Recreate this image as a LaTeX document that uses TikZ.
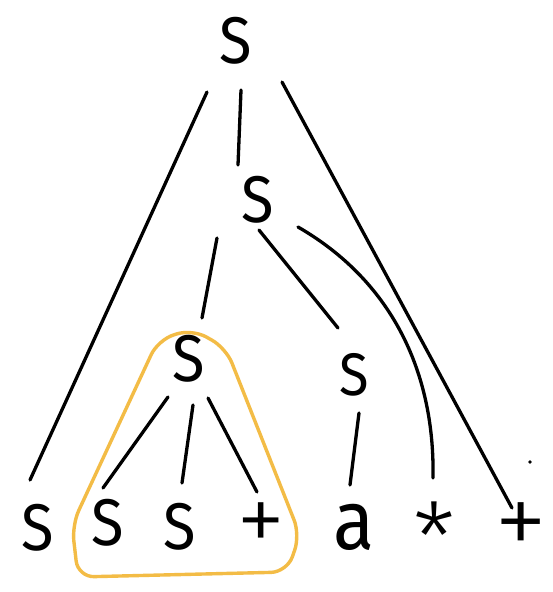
\documentclass[tikz,border=0pt]{standalone}
\usepackage{fontspec}
\newfontfamily\hand{Fira Sans}[FakeStretch=0.9]
\newfontfamily\handlight{Fira Sans Light}
\usetikzlibrary{calc}
\definecolor{hl}{RGB}{243,188,70}
\begin{document}
\begin{tikzpicture}[x=1pt,y=-1pt,
  lab/.style={font=\hand\fontsize{66}{70}\selectfont, inner sep=0pt},
  sym/.style={font=\handlight\fontsize{100}{100}\selectfont, inner sep=0pt},
  edge/.style={line width=3.3pt, line cap=round},
  hlline/.style={draw=hl, line width=3.4pt, line join=round, rounded corners=16pt}]
\useasboundingbox (0,0) rectangle (552,592);
\fill[white] (0,0) rectangle (552,592);
% highlight
\draw[hlline] (192,329) -- (158,340) -- (72,525) -- (78,577) -- (287,572) -- (300,535) -- (226,348) -- cycle;
% nodes
\node[lab] (s0) at (236,41) {S};
\node[lab] (s1) at (258,200) {S};
\node[lab] (s2) at (189,359) {S};
\node[lab, font=\hand\fontsize{60}{64}\selectfont] (s3) at (354,375) {S};
\node[lab] (b1) at (38,528) {S};
\node[lab] (b2) at (108,523) {S};
\node[lab] (b3) at (180,527) {S};
\node[sym] (b4) at (261,528) {+};
\node[lab, font=\hand\fontsize{84}{88}\selectfont] (b5) at (354,527) {a};
\node[sym, font=\handlight\fontsize{96}{96}\selectfont] (b6) at (434,525) {\raisebox{-0.49em}[0.16em][0.16em]{*}};
\node[sym, font=\handlight\fontsize{108}{108}\selectfont] (b7) at (521,530) {+};
% connectors
\draw[edge] ($(s0)+(-29,51)$) -- ($(b1)+(-8,-48)$);
\draw[edge] ($(s0)+(5,49)$) -- ($(s1)+(-20,-35)$);
\draw[edge] ($(s0)+(46,41)$) -- ($(b7)+(-9,-22)$);
\draw[edge] ($(s1)+(-41,38)$) -- ($(s2)+(13,-41)$);
\draw[edge] ($(s1)+(1,30)$) -- ($(s3)+(-16,-47)$);
\draw[edge] ($(s1)+(40,27)$) .. controls (390,280) and (435,370) .. ($(b6)+(-1,-47)$);
\draw[edge] ($(s2)+(-21,38)$) -- ($(b2)+(-5,-35)$);
\draw[edge] ($(s2)+(4,46)$) -- ($(b3)+(2,-44)$);
\draw[edge] ($(s2)+(19,39)$) -- ($(b4)+(-4,-36)$);
\draw[edge] ($(s3)+(5,38)$) -- ($(b5)+(-4,-42)$);
\fill (530,462) circle (1.8);
\end{tikzpicture}
\end{document}
